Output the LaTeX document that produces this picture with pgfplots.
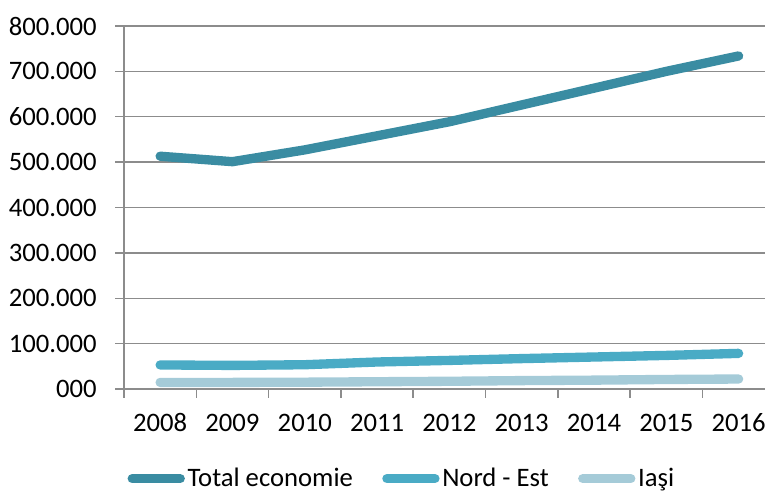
\documentclass[border=0pt]{standalone}
\usepackage{fontspec}
\setmainfont{Carlito}
\usepackage{pgfplots}
\pgfplotsset{compat=1.18}
\definecolor{c1}{HTML}{3A8CA2}
\definecolor{c2}{HTML}{4AABC5}
\definecolor{c3}{HTML}{A5CBD8}
\definecolor{gridc}{HTML}{8C8C8C}
\begin{document}
\begin{tikzpicture}
\begin{axis}[
  scale only axis, width=480.75pt, height=272.25pt,
  xmin=-0.5, xmax=8.365, ymin=0, ymax=800,
  axis x line*=bottom, axis y line*=left,
  axis line style={gridc, line width=1.1pt, -},
  tick align=outside, major tick length=6.5pt,
  tick style={gridc, line width=1.1pt},
  ymajorgrids, grid style={gridc, line width=1.1pt},
  ytick={0,100,...,800},
  yticklabels={000,100.000,200.000,300.000,400.000,500.000,600.000,700.000,800.000},
  yticklabel style={xshift=-10.5pt},
  xtick={-0.5,0.5,...,7.5}, xticklabels={},
  extra x ticks={0,1,...,8},
  extra x tick labels={2008,2009,2010,2011,2012,2013,2014,2015,2016},
  extra x tick style={major tick length=0pt, grid=none, xticklabel style={yshift=-15pt}},
  ticklabel style={font=\fontsize{20}{24}\selectfont, text=black},
  legend columns=3,
  legend style={draw=none, fill=none, at={(0.434,-0.247)}, anchor=center, font=\fontsize{20}{24}\selectfont, /tikz/every even column/.append style={column sep=20pt}},
  legend image code/.code={\draw[#1, line width=7pt, line cap=round] (0pt,0pt) -- (36pt,0pt);},
  every axis plot/.append style={line width=7pt, line cap=round, line join=round},
  clip=false,
]
\addplot[c1] coordinates {(0,513) (1,501) (2,527) (3,558) (4,589) (5,626) (6,663) (7,700) (8,734)};
\addlegendentry{Total economie}
\addplot[c2] coordinates {(0,53) (1,52) (2,53.5) (3,59.5) (4,63) (5,67) (6,70.5) (7,74) (8,78.5)};
\addlegendentry{Nord - Est}
\addplot[c3] coordinates {(0,14.5) (1,14.5) (2,15) (3,16) (4,17) (5,18.5) (6,19.5) (7,21) (8,22)};
\addlegendentry{Iaşi}
\end{axis}
\pgfresetboundingbox
\path[use as bounding box] (-93pt,-77.25pt) rectangle (480.75pt,291.75pt);
\end{tikzpicture}
\end{document}
